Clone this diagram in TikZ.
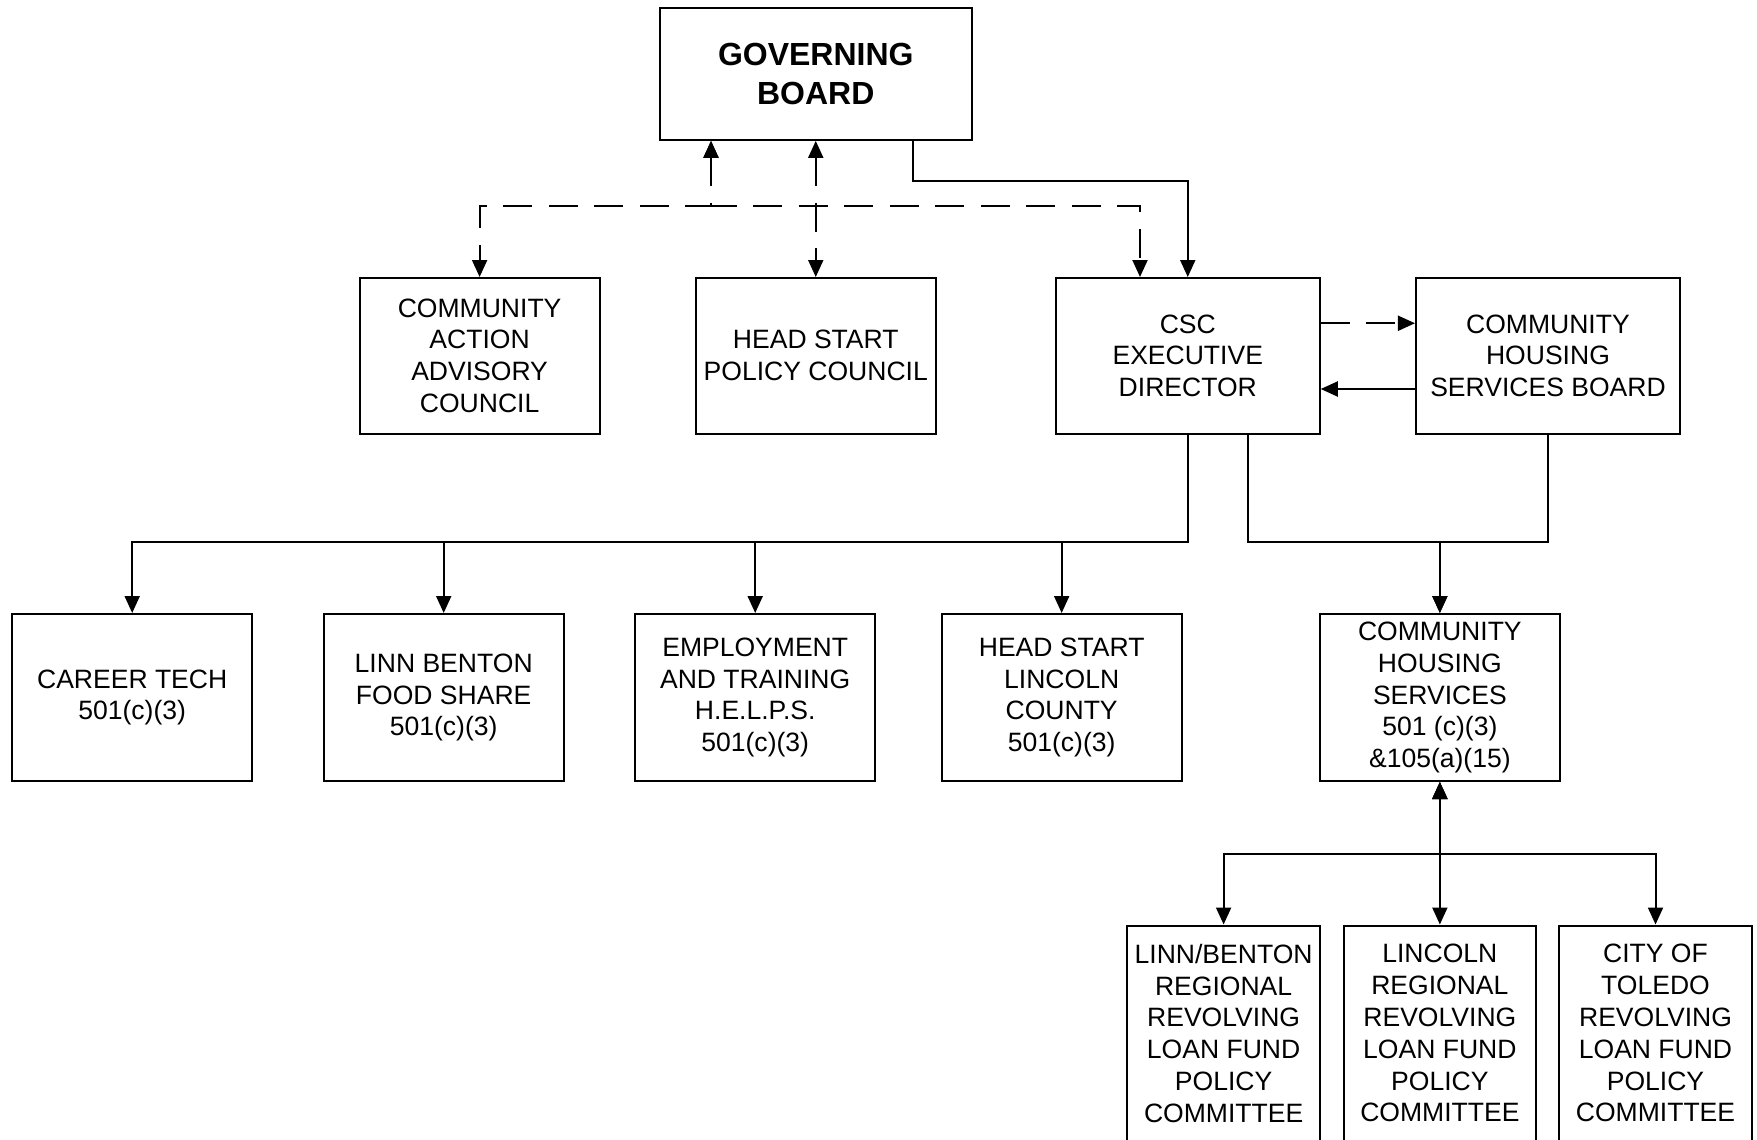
\documentclass[tikz,border=0pt]{standalone}
\usepackage{fontspec}
\setmainfont{Liberation Sans}
\usepackage{tikz}
\usetikzlibrary{arrows.meta}

\tikzset{
  box/.style={draw, line width=0.04cm, align=center, inner sep=0pt,
    font=\fontsize{15.1}{18.1}\selectfont},
  conn/.style={line width=0.04cm},
  dconn/.style={line width=0.04cm, dash pattern=on 0.58cm off 0.33cm},
}

\begin{document}
\begin{tikzpicture}[>={Triangle[length=0.34cm, width=0.3cm]}]
      \useasboundingbox (0, 0) rectangle (35.14, -22.78);
      \clip (0, 0) rectangle (35.14, -22.78);

      % top
      \node[box, minimum width=6.23cm, minimum height=2.64cm,
        font=\bfseries\fontsize{18.2}{22.3}\selectfont] (gov) at (16.315, -1.478) {GOVERNING\\BOARD};

      % councils and director
      \node[box, minimum width=4.8cm, minimum height=3.11cm] (caac) at (9.592, -7.115) {COMMUNITY\\ACTION\\ADVISORY\\COUNCIL};
      \node[box, minimum width=4.8cm, minimum height=3.11cm] (hspc) at (16.315, -7.115) {HEAD START\\POLICY COUNCIL};
      \node[box, minimum width=5.28cm, minimum height=3.11cm] (csc) at (23.755, -7.115) {CSC\\EXECUTIVE\\DIRECTOR};
      \node[box, minimum width=5.28cm, minimum height=3.11cm] (chsb) at (30.959, -7.115) {COMMUNITY\\HOUSING\\SERVICES BOARD};

      % programs
      \node[box, minimum width=4.8cm, minimum height=3.34cm] (career) at (2.644, -13.95) {CAREER TECH\\501(c)(3)};
      \node[box, minimum width=4.8cm, minimum height=3.34cm] (food) at (8.874, -13.95) {LINN BENTON\\FOOD SHARE\\501(c)(3)};
      \node[box, minimum width=4.8cm, minimum height=3.34cm] (emp) at (15.104, -13.95) {EMPLOYMENT\\AND TRAINING\\H.E.L.P.S.\\501(c)(3)};
      \node[box, minimum width=4.8cm, minimum height=3.34cm] (hslc) at (21.233, -13.95) {HEAD START\\LINCOLN\\COUNTY\\501(c)(3)};
      \node[box, minimum width=4.8cm, minimum height=3.34cm] (chs) at (28.797, -13.95) {COMMUNITY\\HOUSING\\SERVICES\\501 (c)(3)\\\&105(a)(15)};

      % loan fund committees
      \node[box, minimum width=3.85cm, minimum height=4.31cm] (rlfa) at (24.472, -20.665) {LINN/BENTON\\REGIONAL\\REVOLVING\\LOAN FUND\\POLICY\\COMMITTEE};
      \node[box, minimum width=3.85cm, minimum height=4.31cm] (rlfb) at (28.797, -20.665) {LINCOLN\\REGIONAL\\REVOLVING\\LOAN FUND\\POLICY\\COMMITTEE};
      \node[box, minimum width=3.85cm, minimum height=4.31cm] (rlfc) at (33.11, -20.665) {CITY OF\\TOLEDO\\REVOLVING\\LOAN FUND\\POLICY\\COMMITTEE};

      \coordinate (gc) at (18.26, -3.62);
      \coordinate (jn) at (14.22, -4.12);
      \coordinate (bus) at (23.755, -10.83);
      \coordinate (lbus) at (28.797, -17.08);

      \draw[conn, ->] (gov.south -| gc) -- (gc) -| (csc.north);
      \draw[dconn, <->] (gov.south -| jn) -- (jn) -| (caac.north);
      \draw[dconn, <->] (gov.south -| jn) -- (jn) -| ([xshift=-0.955cm]csc.north);
      \draw[dconn, <->] (gov) -- (hspc);

      \draw[dconn, ->] ([yshift=0.65cm]csc.east) -- ([yshift=0.65cm]chsb.west);
      \draw[conn, ->] ([yshift=-0.665cm]chsb.west) -- ([yshift=-0.665cm]csc.east);

      \draw[conn, ->] (csc.south) -- (bus) -| (career.north);
      \draw[conn, ->] (bus) -| (food.north);
      \draw[conn, ->] (bus) -| (emp.north);
      \draw[conn, ->] (bus) -| (hslc.north);
      \draw[conn, ->] ([xshift=1.205cm]csc.south) |- (chs.north |- bus) -- (chs.north);
      \draw[conn, ->] (chsb.south) |- (chs.north |- bus) -- (chs.north);

      \draw[conn, <->] (chs.south) |- (rlfa.north |- lbus) -- (rlfa.north);
      \draw[conn, <->] (chs) -- (rlfb);
      \draw[conn, <->] (chs.south) |- (rlfc.north |- lbus) -- (rlfc.north);
    \end{tikzpicture}
\end{document}
